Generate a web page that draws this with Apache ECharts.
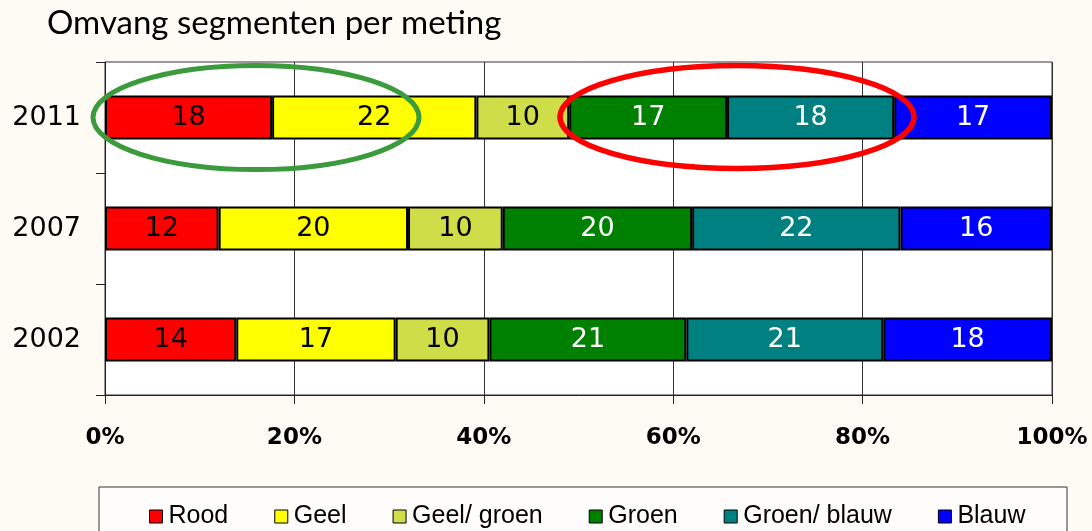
<!DOCTYPE html>
<html>
<head>
<meta charset="utf-8">
<script src="https://cdn.jsdelivr.net/npm/echarts@6/dist/echarts.min.js"></script>
<style>
  html, body { margin: 0; padding: 0; }
  #main { width: 1092px; height: 531px; }
</style>
</head>
<body>
<div id="main"></div>
<script>
// metingen (onder naar boven)
const years = ['2002', '2007', '2011'];
const segmentNames = ['Rood', 'Geel', 'Geel/ groen', 'Groen', 'Groen/ blauw', 'Blauw'];
const rood = [14, 12, 18];
const geel = [17, 20, 22];
const geelGroen = [10, 10, 10];
const groen = [21, 20, 17];
const groenBlauw = [21, 22, 18];
const blauw = [18, 16, 17];
const xTicks = [0, 20, 40, 60, 80, 100];

const segments = [rood, geel, geelGroen, groen, groenBlauw, blauw];
const colors = ['#ff0000', '#ffff00', '#cfdd48', '#008000', '#008080', '#0000ff'];
const labelColors = ['#000', '#000', '#000', '#fff', '#fff', '#fff'];

// totals per jaar, om naar 100% te schalen
const totals = years.map((y, i) => segments.reduce((s, arr) => s + arr[i], 0));

const chart = echarts.init(document.getElementById('main'));

const series = segments.map((arr, si) => ({
    name: segmentNames[si],
    type: 'bar',
    stack: 'total',
    barWidth: 44,
    data: arr.map((v, i) => v / totals[i] * 100),
    itemStyle: {color: colors[si], borderColor: '#000', borderWidth: 2},
    label: {
        show: true,
        position: 'inside',
        formatter: p => String(segments[si][p.dataIndex]),
        color: labelColors[si],
        fontFamily: 'DejaVu Sans',
        fontSize: 27
    }
}));

const option = {
    backgroundColor: '#fefbf5',
    animation: false,
    title: {
        text: 'Omvang segmenten per meting',
        left: 42,
        top: 2,
        textStyle: {fontFamily: 'Lato', fontSize: 33, fontWeight: 'normal', color: '#000'}
    },
    grid: {
        left: 105, right: 40, top: 62, bottom: 136,
        show: true, backgroundColor: '#fff', borderColor: '#333', borderWidth: 1
    },
    xAxis: {
        type: 'value',
        min: 0, max: 100, interval: 20,
        axisLine: {show: true, lineStyle: {color: '#222'}},
        axisTick: {show: true, length: 9, lineStyle: {color: '#222'}},
        splitLine: {show: true, lineStyle: {color: '#333', width: 1}},
        axisLabel: {
            margin: 32,
            formatter: v => xTicks.includes(v) ? v + '%' : '',
            color: '#000', fontFamily: 'DejaVu Sans', fontWeight: 'bold', fontSize: 23
        }
    },
    yAxis: {
        type: 'category',
        data: years,
        axisLine: {show: true, lineStyle: {color: '#222'}},
        axisTick: {show: true, length: 9, lineStyle: {color: '#222'}},
        axisLabel: {margin: 24, color: '#000', fontFamily: 'DejaVu Sans', fontSize: 27}
    },
    legend: {
        left: 144,
        top: 499,
        icon: 'rect',
        itemWidth: 13,
        itemHeight: 13,
        itemGap: 46,
        itemStyle: {borderColor: '#000', borderWidth: 1},
        textStyle: {fontFamily: 'Liberation Sans', fontSize: 25, color: '#000', padding: [0, 0, 0, 1]},
        data: segmentNames
    },
    graphic: [
        {
            type: 'rect', z: 0, silent: true,
            shape: {x: 99, y: 487, width: 968, height: 70},
            style: {fill: 'rgba(255,255,255,0.55)', stroke: '#333', lineWidth: 1}
        },
        {
            type: 'ellipse', z: 100, silent: true,
            shape: {cx: 256, cy: 117.5, rx: 163, ry: 52},
            style: {fill: 'none', stroke: '#3b9a3b', lineWidth: 5}
        },
        {
            type: 'ellipse', z: 100, silent: true,
            shape: {cx: 737, cy: 117, rx: 177, ry: 51.5},
            style: {fill: 'none', stroke: '#ff0000', lineWidth: 5.5}
        }
    ],
    series: series
};

chart.setOption(option);
</script>
</body>
</html>
